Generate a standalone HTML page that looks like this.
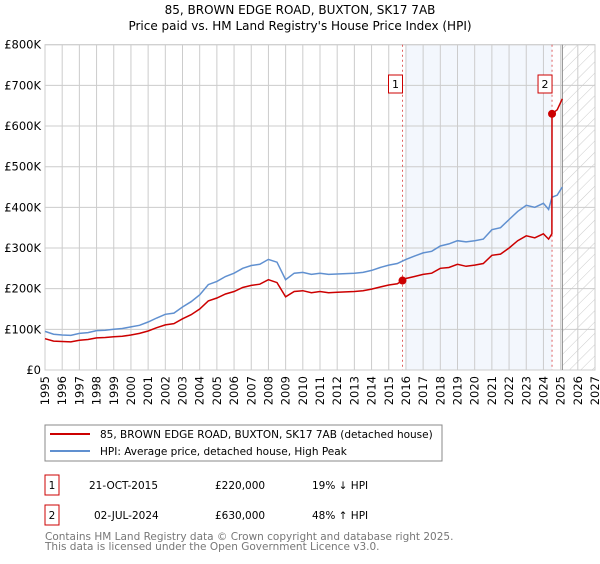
<!DOCTYPE html>
<html><head><meta charset="utf-8"><style>
body{margin:0;background:#fff;font-family:"DejaVu Sans","Liberation Sans",sans-serif}
svg text{font-family:"DejaVu Sans","Liberation Sans",sans-serif}
</style></head><body>
<svg id="c" width="600" height="560" xmlns="http://www.w3.org/2000/svg">
<defs><pattern id="h" width="8" height="8" patternUnits="userSpaceOnUse" patternTransform="rotate(45)"><line x1="0" y1="0" x2="0" y2="8" stroke="#ccc" stroke-width="1"/></pattern></defs>
<text x="300" y="14" font-size="12" text-anchor="middle">85, BROWN EDGE ROAD, BUXTON, SK17 7AB</text>
<text x="300" y="30" font-size="12" text-anchor="middle">Price paid vs. HM Land Registry's House Price Index (HPI)</text>
<g id="plot"></g>
<rect x="45" y="425" width="397" height="36" fill="none" stroke="#888"/>
<line x1="50" y1="434" x2="90" y2="434" stroke="#cc0000" stroke-width="2"/>
<text x="100" y="438" font-size="10.5">85, BROWN EDGE ROAD, BUXTON, SK17 7AB (detached house)</text>
<line x1="50" y1="451" x2="90" y2="451" stroke="#6090d0" stroke-width="2"/>
<text x="100" y="455" font-size="10.5">HPI: Average price, detached house, High Peak</text>
<g font-size="10.5">
<rect x="45" y="475" width="14" height="20" fill="none" stroke="#cc0000"/>
<text x="52" y="489" text-anchor="middle">1</text>
<text x="89" y="489">21-OCT-2015</text><text x="215" y="489">£220,000</text><text x="312" y="489">19% ↓ HPI</text>
<rect x="45" y="505" width="14" height="20" fill="none" stroke="#cc0000"/>
<text x="52" y="519" text-anchor="middle">2</text>
<text x="94" y="519">02-JUL-2024</text><text x="215" y="519">£630,000</text><text x="312" y="519">48% ↑ HPI</text>
</g>
<text x="45" y="540" font-size="10.5" fill="#777">Contains HM Land Registry data © Crown copyright and database right 2025.</text>
<text x="45" y="550" font-size="10.5" fill="#777">This data is licensed under the Open Government Licence v3.0.</text>
</svg>
<script>
const hpiYears=[1995,1995.5,1996,1996.5,1997,1997.5,1998,1998.5,1999,1999.5,2000,2000.5,2001,2001.5,2002,2002.5,2003,2003.5,2004,2004.5,2005,2005.5,2006,2006.5,2007,2007.5,2008,2008.5,2009,2009.5,2010,2010.5,2011,2011.5,2012,2012.5,2013,2013.5,2014,2014.5,2015,2015.5,2016,2016.5,2017,2017.5,2018,2018.5,2019,2019.5,2020,2020.5,2021,2021.5,2022,2022.5,2023,2023.5,2024,2024.3,2024.5,2024.8,2025.1];
const hpiValues=[95,88,86,85,90,92,97,98,100,102,106,110,118,128,137,140,155,168,185,210,218,230,238,250,257,260,272,265,222,238,240,235,238,235,236,237,238,240,245,252,258,262,272,280,288,292,305,310,318,315,318,322,345,350,370,390,405,400,410,395,425,430,450];
const redYears=[1995,1995.5,1996,1996.5,1997,1997.5,1998,1998.5,1999,1999.5,2000,2000.5,2001,2001.5,2002,2002.5,2003,2003.5,2004,2004.5,2005,2005.5,2006,2006.5,2007,2007.5,2008,2008.5,2009,2009.5,2010,2010.5,2011,2011.5,2012,2012.5,2013,2013.5,2014,2014.5,2015,2015.5,2015.8,2016,2016.5,2017,2017.5,2018,2018.5,2019,2019.5,2020,2020.5,2021,2021.5,2022,2022.5,2023,2023.5,2024,2024.3,2024.49,2024.5,2024.8,2025.1];
const redValues=[77,71,70,69,73,75,79,80,82,83,86,90,96,104,111,114,126,136,150,170,177,187,193,203,208,211,222,215,180,193,195,190,193,190,191,192,193,195,199,204,209,212,220,225,230,235,238,250,252,260,255,258,262,282,285,300,318,330,325,335,322,335,630,640,667];
const yTicks=[0,100,200,300,400,500,600,700,800];
const yTickLabels=["£0","£100K","£200K","£300K","£400K","£500K","£600K","£700K","£800K"];
const xTicks=[1995,1996,1997,1998,1999,2000,2001,2002,2003,2004,2005,2006,2007,2008,2009,2010,2011,2012,2013,2014,2015,2016,2017,2018,2019,2020,2021,2022,2023,2024,2025,2026,2027];
const sales=[{n:"1",t:2015.8,v:220},{n:"2",t:2024.5,v:630}];
const X0=45,X1=595,Y0=370,Y1=44.7;
const x=t=>X0+(t-1995)/(2027-1995)*(X1-X0);
const y=v=>Y0-v/800*(Y0-Y1);
const NS="http://www.w3.org/2000/svg";
const g=document.getElementById('plot');
function mk(tag,a,p){const e=document.createElementNS(NS,tag);for(const k in a)e.setAttribute(k,a[k]);(p||g).appendChild(e);return e;}
let e;
e=mk('rect',{x:x(2016),y:Y1,width:x(2024.5)-x(2016),height:Y0-Y1,fill:'#eef3fc',opacity:0.7});


e=mk('rect',{x:x(2025.1),y:Y1,width:X1-x(2025.1),height:Y0-Y1,fill:'url(#h)'});


yTicks.forEach((v,i)=>{
 e=mk('line',{x1:X0,x2:X1,y1:y(v),y2:y(v),stroke:'#ccc'});
 
 
 e=mk('text',{x:X0-4,y:y(v)+4,'font-size':11.5,'text-anchor':'end'});e.textContent=yTickLabels[i];
 
 
});
xTicks.forEach(t=>{
 e=mk('line',{x1:x(t),x2:x(t),y1:Y1,y2:Y0,stroke:'#ccc'});
 
 
 e=mk('text',{x:x(t)+4,y:Y0+6,'font-size':11.5,'text-anchor':'end',transform:`rotate(-90 ${x(t)+4} ${Y0+6})`});e.textContent=t;
 
 
});
e=mk('rect',{x:X0,y:Y1,width:X1-X0,height:Y0-Y1,fill:'none',stroke:'#ccc'});


e=mk('line',{x1:x(2025.1),x2:x(2025.1),y1:Y1,y2:Y0,stroke:'#888'});


sales.forEach(s=>{
 e=mk('line',{x1:x(s.t),x2:x(s.t),y1:Y1,y2:Y0,stroke:'#e06060','stroke-dasharray':'2,3'});
 
 
});
const path=(xs,vs)=>xs.map((t,i)=>(i?'L':'M')+x(t).toFixed(1)+','+y(vs[i]).toFixed(1)).join('');
e=mk('path',{d:path(hpiYears,hpiValues),fill:'none',stroke:'#6090d0','stroke-width':1.5});


e=mk('path',{d:path(redYears,redValues),fill:'none',stroke:'#cc0000','stroke-width':1.5});


sales.forEach(s=>{
 e=mk('circle',{cx:x(s.t),cy:y(s.v),r:4,fill:'#cc0000'});
 
 
 e=mk('rect',{x:x(s.t)-14,y:75,width:14,height:18,fill:'#fff',stroke:'#cc0000'});
 
 
 e=mk('text',{x:x(s.t)-7,y:88,'font-size':11,'text-anchor':'middle'});e.textContent=s.n;
 
 
});
</script>
</body></html>
